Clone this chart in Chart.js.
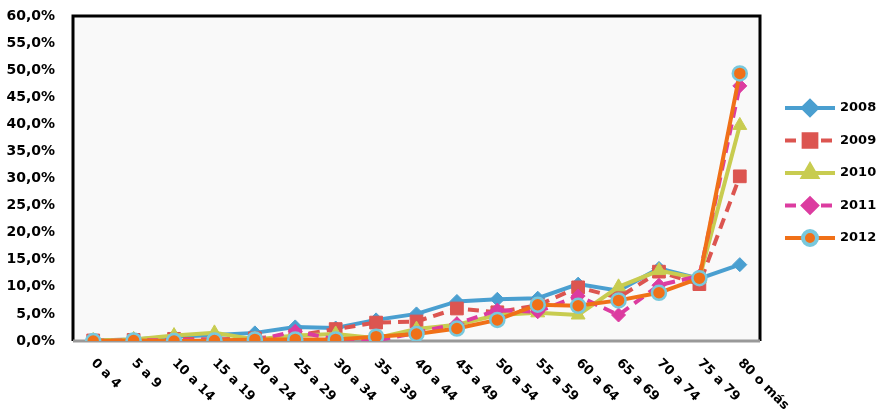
<!DOCTYPE html>
<html>
<head>
<meta charset="utf-8">
<style>
  html, body { margin: 0; padding: 0; background: #fff; }
  #wrap { width: 883px; height: 414px; }
</style>
<script src="https://cdn.jsdelivr.net/npm/chart.js@4/dist/chart.umd.min.js"></script>
</head>
<body>
<div id="wrap"><canvas id="chart" width="883" height="414"></canvas></div>
<script>
const ageGroups = ["0 a 4", "5 a 9", "10 a 14", "15 a 19", "20 a 24", "25 a 29", "30 a 34", "35 a 39",
  "40 a 44", "45 a 49", "50 a 54", "55 a 59", "60 a 64", "65 a 69", "70 a 74", "75 a 79", "80 o más"];

// percent values
const y2008 = [0.1, 0.3, 0.8, 1.1, 1.5, 2.6, 2.4, 3.9, 5.0, 7.3, 7.7, 7.9, 10.5, 9.3, 13.4, 11.5, 14.1];
const y2009 = [0.1, 0.2, 0.4, 0.3, 0.5, 1.0, 2.2, 3.4, 3.6, 6.0, 5.3, 6.6, 9.9, 8.0, 12.8, 10.5, 30.4];
const y2010 = [0.1, 0.3, 1.0, 1.5, 0.3, 1.0, 1.3, 0.5, 2.2, 3.0, 4.8, 5.2, 4.8, 10.0, 13.0, 11.5, 39.8];
const y2011 = [0.0, 0.1, 0.2, 0.2, 0.1, 1.8, 0.3, 0.1, 1.5, 3.2, 5.7, 5.4, 8.3, 4.8, 10.3, 12.0, 47.1];
const y2012 = [0.0, 0.1, 0.0, 0.1, 0.3, 0.3, 0.3, 0.8, 1.3, 2.3, 3.9, 6.7, 6.5, 7.5, 8.9, 11.6, 49.4];

const yTicks = [0, 5, 10, 15, 20, 25, 30, 35, 40, 45, 50, 55, 60];

const FONT = "'DejaVu Sans', Verdana, sans-serif";

const datasets = [
  { label: "2008", data: y2008, borderColor: "#4a9fd0", backgroundColor: "#4a9fd0",
    pointStyle: "rectRot", pointRadius: 7, pointBorderColor: "#4a9fd0", order: 4 },
  { label: "2009", data: y2009, borderColor: "#dc5550", backgroundColor: "#dc5550",
    pointStyle: "rect", pointRadius: 9, pointBorderColor: "#dc5550", borderDash: [11, 7], order: 3 },
  { label: "2010", data: y2010, borderColor: "#c8cc50", backgroundColor: "#c8cc50",
    pointStyle: "triangle", pointRadius: 8, pointBorderColor: "#c8cc50", order: 2 },
  { label: "2011", data: y2011, borderColor: "#dc3ca0", backgroundColor: "#dc3ca0",
    pointStyle: "rectRot", pointRadius: 7, pointBorderColor: "#dc3ca0", borderDash: [11, 7], order: 1 },
  { label: "2012", data: y2012, borderColor: "#f07018", backgroundColor: "#f07018",
    pointStyle: "circle", pointRadius: 7, pointBorderColor: "#78c8dc", pointBorderWidth: 2.5, order: 0 },
];
datasets.forEach((d) => {
  d.borderWidth = 4;
  d.tension = 0;
  d.pointBorderWidth = d.pointBorderWidth || 1;
  d.pointHoverRadius = d.pointRadius;
});

// plot background + frame
const frame = {
  id: "frame",
  beforeDatasetsDraw(chart) {
    const { ctx, chartArea: a } = chart;
    ctx.save();
    ctx.fillStyle = "#f9f9f9";
    ctx.fillRect(a.left, a.top, a.right - a.left, a.bottom - a.top);
    ctx.strokeStyle = "#000";
    ctx.lineWidth = 3;
    ctx.beginPath();
    ctx.moveTo(a.left, a.bottom);
    ctx.lineTo(a.left, a.top);
    ctx.lineTo(a.right, a.top);
    ctx.lineTo(a.right, a.bottom);
    ctx.stroke();
    ctx.strokeStyle = "#999";
    ctx.beginPath();
    ctx.moveTo(a.left, a.bottom);
    ctx.lineTo(a.right, a.bottom);
    ctx.stroke();
    ctx.restore();
  },
};

// rotated x labels (down-right) and legend with line + marker
const extras = {
  id: "extras",
  afterDraw(chart) {
    const { ctx, chartArea: a } = chart;
    const xs = chart.scales.x;
    ctx.save();
    ctx.fillStyle = "#000";
    ctx.font = "bold 13px " + FONT;
    ctx.textAlign = "left";
    ctx.textBaseline = "middle";
    ageGroups.forEach((lab, i) => {
      const x = xs.getPixelForValue(i);
      ctx.save();
      ctx.translate(x, a.bottom + 20);
      ctx.rotate(Math.PI / 4);
      ctx.fillText(lab, 0, 0);
      ctx.restore();
    });

    chart.data.datasets.forEach((d, i) => {
      const y = 108 + i * 32.5;
      const x0 = a.right + 25;
      ctx.save();
      ctx.strokeStyle = d.borderColor;
      ctx.lineWidth = 4;
      ctx.setLineDash(d.borderDash || []);
      ctx.beginPath();
      ctx.moveTo(x0, y);
      ctx.lineTo(x0 + 50, y);
      ctx.stroke();
      ctx.setLineDash([]);
      ctx.fillStyle = d.backgroundColor;
      ctx.strokeStyle = d.pointBorderColor;
      Chart.helpers.drawPoint(ctx, {
        pointStyle: d.pointStyle, rotation: 0, radius: d.pointRadius,
        borderWidth: d.pointBorderWidth,
      }, x0 + 25, y);
      ctx.restore();
      ctx.fillStyle = "#000";
      ctx.font = "bold 13px " + FONT;
      ctx.textAlign = "left";
      ctx.fillText(d.label, x0 + 55, y);
    });
    ctx.restore();
  },
};

new Chart(document.getElementById("chart"), {
  type: "line",
  data: { labels: ageGroups, datasets: datasets },
  options: {
    responsive: false,
    animation: false,
    layout: { padding: { left: 5, right: 123, top: 16, bottom: 73 } },
    plugins: { legend: { display: false }, tooltip: { enabled: false } },
    scales: {
      x: {
        offset: true,
        grid: { display: false, drawTicks: false },
        border: { display: false },
        ticks: { display: false },
      },
      y: {
        min: 0,
        max: 60,
        afterBuildTicks(scale) {
          scale.ticks = yTicks.map((v) => ({ value: v }));
        },
        afterFit(scale) {
          scale.width = 68;
          scale.paddingTop = 0;
          scale.paddingBottom = 0;
        },
        grid: { display: false, drawTicks: false },
        border: { display: false },
        ticks: {
          padding: 18,
          color: "#000",
          font: { family: FONT, size: 14, weight: "bold" },
          callback: (v) => v.toFixed(1).replace(".", ",") + "%",
        },
      },
    },
  },
  plugins: [frame, extras],
});
</script>
</body>
</html>
